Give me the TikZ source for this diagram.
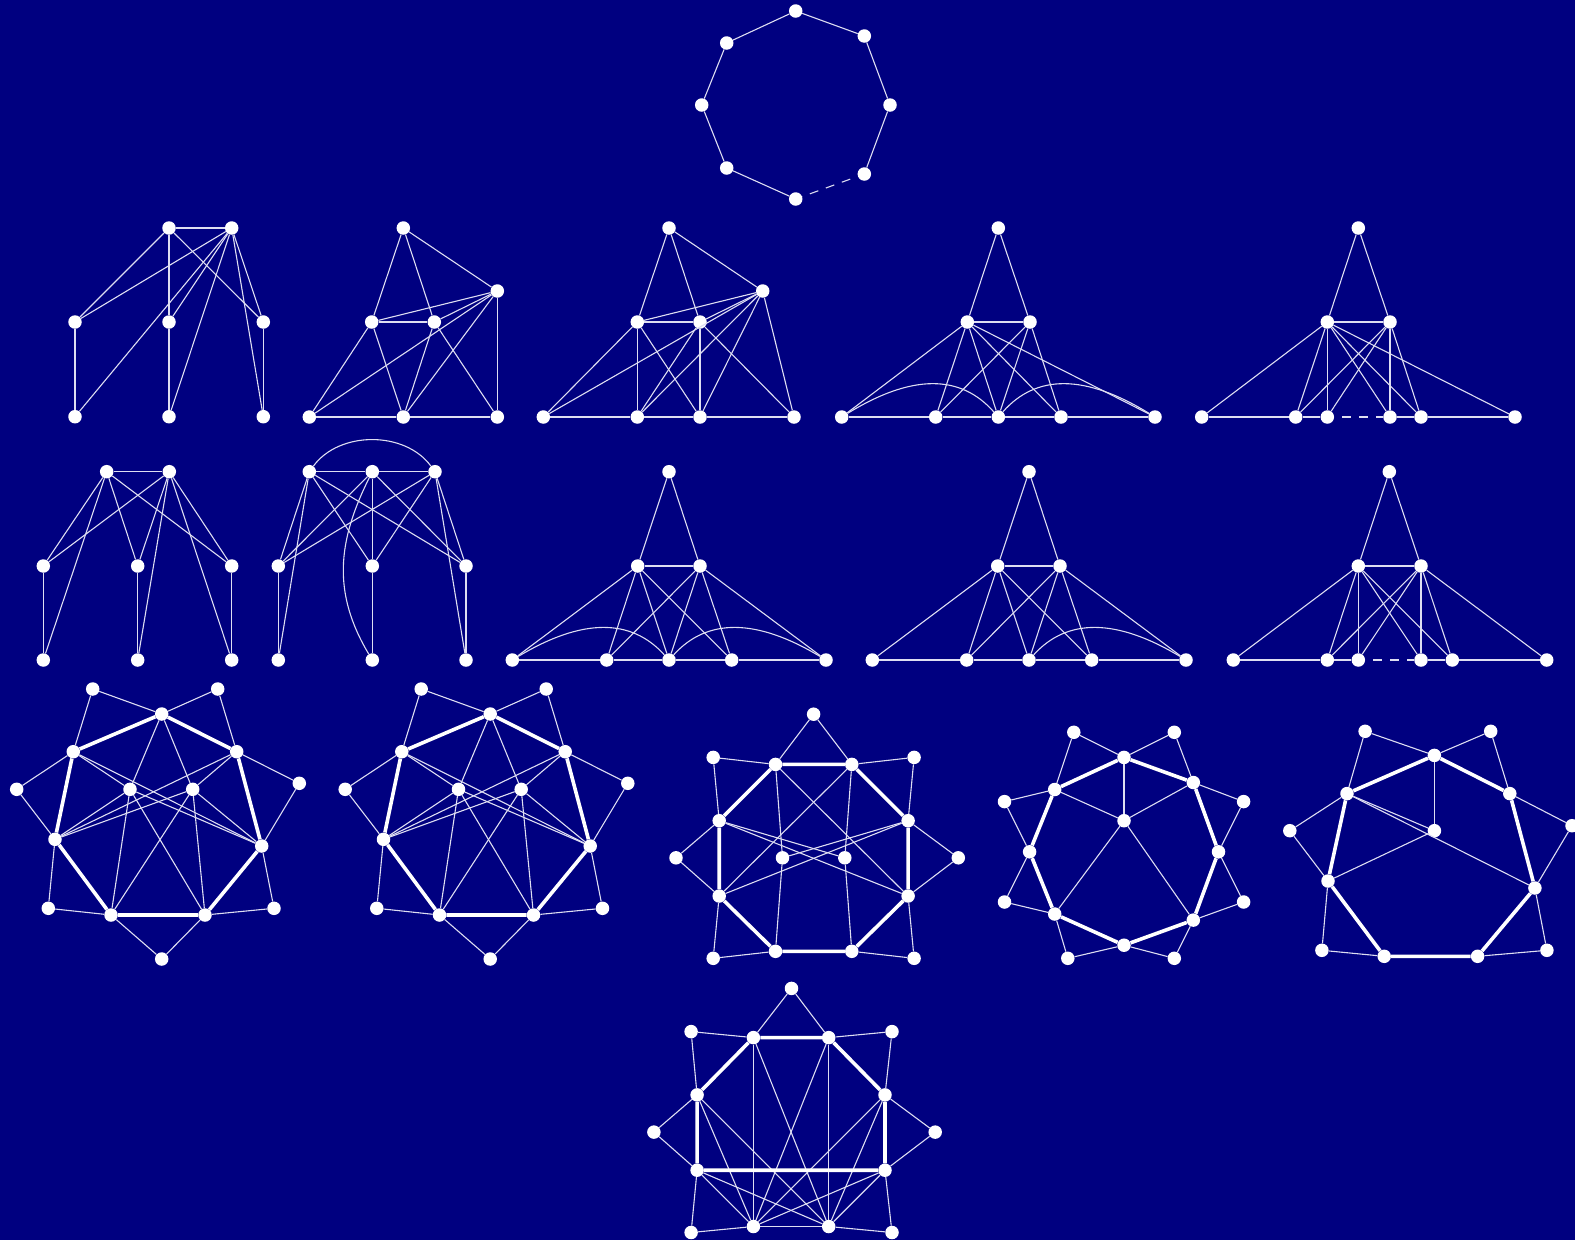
\documentclass[tikz,border=0pt]{standalone}
\definecolor{navybg}{RGB}{0,0,128}
\definecolor{ecol}{RGB}{222,222,242}
\begin{document}
\begin{tikzpicture}[x=1pt,y=-1pt,
 v/.style={circle,fill=white,inner sep=0pt,minimum size=13.5pt},
 e/.style={draw=ecol,line width=1.1pt},
 th/.style={draw=white,line width=3.6pt,line join=round},
 dsh/.style={e,dash pattern=on 9pt off 8pt,dash phase=9pt}]
\fill[navybg] (0,0) rectangle (1575,1240);
\useasboundingbox (0,0) rectangle (1575,1240);
% ---------- graph 0: octagon
\foreach \n/\x/\y in {a/795.7/11,b/864.3/36,c/890/105,d/864.3/174,e/795.7/199,f/726.7/168,g/701.7/105,h/726.7/43}
  \node[v] (g0\n) at (\x,\y) {};
\foreach \u/\w in {a/b,b/c,c/d,e/f,f/g,g/h,h/a} \draw[e] (g0\u) -- (g0\w);
\draw[dsh] (g0d) -- (g0e);
% ---------- graph 1
\foreach \n/\x/\y in {a/169/228,b/231.7/228,c/75/322,d/169/322,e/263.3/322,f/75/416.7,g/169/416.7,h/263.3/416.7}
  \node[v] (g1\n) at (\x,\y) {};
\foreach \u/\w in {a/b,a/c,a/d,a/e,b/c,b/d,b/e,b/f,b/g,b/h,c/f,d/g,e/h} \draw[e] (g1\u) -- (g1\w);
% ---------- graph 2
\foreach \n/\x/\y in {t/403.3/228,r/497.3/291,p/371.7/322,q/434.3/322,a/309.3/417,b/403.3/417,c/497.3/417}
  \node[v] (g2\n) at (\x,\y) {};
\foreach \u/\w in {t/p,t/q,t/r,p/q,p/r,q/r,p/a,p/b,q/b,q/c,r/a,r/b,r/c,a/b,b/c} \draw[e] (g2\u) -- (g2\w);
% ---------- graph 3
\foreach \n/\x/\y in {t/669/228,r/762.7/291,p/637.3/322,q/700/322,a/543.3/417,b/637.3/417,c/700/417,d/794/417}
  \node[v] (g3\n) at (\x,\y) {};
\foreach \u/\w in {t/p,t/q,t/r,p/q,p/r,q/r,r/a,r/b,r/c,r/d,p/a,p/b,p/c,q/b,q/c,q/d,a/b,b/c,c/d} \draw[e] (g3\u) -- (g3\w);
% ---------- graph 4
\foreach \n/\x/\y in {t/998.3/228,p/967.3/322,q/1030/322,a/841.7/417,b/935.7/417,c/998.3/417,d/1061/417,e/1155/417}
  \node[v] (g4\n) at (\x,\y) {};
\foreach \u/\w in {t/p,t/q,p/q,p/a,p/b,p/c,p/d,p/e,q/b,q/c,q/d,a/b,b/c,c/d,d/e} \draw[e] (g4\u) -- (g4\w);
\draw[e] (g4a) .. controls +(70,-43) and +(-38,-43) .. (g4c);
\draw[e] (g4c) .. controls +(38,-43) and +(-70,-43) .. (g4e);
% ---------- graph 5
\foreach \n/\x/\y in {t/1358.3/228,p/1327.3/322,q/1390/322,a/1201.7/417,b/1295.7/417,c/1327.3/417,d/1390/417,e/1421/417,f/1515/417}
  \node[v] (g5\n) at (\x,\y) {};
\foreach \u/\w in {t/p,t/q,p/q,p/a,p/b,p/c,p/d,p/e,p/f,q/b,q/c,q/d,q/e,a/b,b/c,d/e,e/f} \draw[e] (g5\u) -- (g5\w);
\draw[dsh] (g5c) -- (g5d);
% ---------- graph 6
\foreach \n/\x/\y in {a/106.7/471.7,b/169.3/471.7,c/43.3/566,d/137.7/566,e/231.7/566,f/43.3/660,g/137.7/660,h/231.7/660}
  \node[v] (g6\n) at (\x,\y) {};
\foreach \u/\w in {a/b,a/c,a/f,a/d,a/e,b/c,b/d,b/g,b/e,b/h,c/f,d/g,e/h} \draw[e] (g6\u) -- (g6\w);
% ---------- graph 7
\foreach \n/\x/\y in {a/309.3/471.7,b/372.3/471.7,c/435/471.7,d/278.3/566,e/372.3/566,f/466/566,g/278.3/660,h/372.3/660,i/466/660}
  \node[v] (g7\n) at (\x,\y) {};
\foreach \u/\w in {a/b,b/c,a/d,a/g,a/e,a/f,b/d,b/e,b/f,c/d,c/e,c/f,c/i,d/g,e/h,f/i} \draw[e] (g7\u) -- (g7\w);
\draw[e] (g7a) .. controls +(30,-41) and +(-30,-41) .. (g7c);
\draw[e] (g7b) .. controls +(-35,70) and +(-40,-67) .. (g7h);
% ---------- graph 8
\foreach \n/\x/\y in {t/669/471.7,p/637.7/566,q/700/566,a/512.3/660,b/606.7/660,c/669/660,d/731.7/660,e/826/660}
  \node[v] (g8\n) at (\x,\y) {};
\foreach \u/\w in {t/p,t/q,p/q,p/a,p/b,p/c,p/d,q/b,q/c,q/d,q/e,a/b,b/c,c/d,d/e} \draw[e] (g8\u) -- (g8\w);
\draw[e] (g8a) .. controls +(70,-42) and +(-38,-42) .. (g8c);
\draw[e] (g8c) .. controls +(38,-42) and +(-70,-42) .. (g8e);
% ---------- graph 9
\foreach \n/\x/\y in {t/1029/471.7,p/997.7/566,q/1060/566,a/872.3/660,b/966.7/660,c/1029/660,d/1091.7/660,e/1186/660}
  \node[v] (g9\n) at (\x,\y) {};
\foreach \u/\w in {t/p,t/q,p/q,p/a,p/b,p/c,p/d,q/b,q/c,q/d,q/e,a/b,b/c,c/d,d/e} \draw[e] (g9\u) -- (g9\w);
\draw[e] (g9c) .. controls +(38,-42) and +(-70,-42) .. (g9e);
% ---------- graph 10
\foreach \n/\x/\y in {t/1389.3/471.7,p/1358.3/566,q/1421/566,a/1233.3/660,b/1327.3/660,c/1358.3/660,d/1421/660,e/1452.3/660,f/1546.7/660}
  \node[v] (gA\n) at (\x,\y) {};
\foreach \u/\w in {t/p,t/q,p/q,p/a,p/b,p/c,p/d,p/e,q/b,q/c,q/d,q/e,q/f,a/b,b/c,d/e,e/f} \draw[e] (gA\u) -- (gA\w);
\draw[dsh] (gAc) -- (gAd);
% ---------- graph 11
\foreach \n/\x/\y in {T/161.7/714,UL/73.3/751.7,UR/236.7/751.7,L/55/839.3,R/261.7/846,BL/111/915,BR/205/915,I/130/789.3,J/192.7/789.3,
  Oa/92.7/689,Ob/217.7/689,Oc/16.7/789.3,Od/299.3/783.3,Oe/48.3/908.3,Of/274/908.3,Og/161.7/959}
  \node[v] (gB\n) at (\x,\y) {};
\foreach \u/\w in {Oa/UL,Oa/T,Ob/T,Ob/UR,Oc/UL,Oc/L,Od/UR,Od/R,Oe/L,Oe/BL,Of/R,Of/BR,Og/BL,Og/BR,
  T/I,T/J,UL/I,UL/R,UR/J,UR/L,I/L,I/R,J/L,J/R,I/BL,I/BR,J/BL,J/BR} \draw[e] (gB\u) -- (gB\w);
\draw[th] (gBT) -- (gBUR) -- (gBR) -- (gBBR) -- (gBBL) -- (gBL) -- (gBUL) -- (gBT);
% ---------- graph 12
\foreach \n/\x/\y in {T/490.2/714,UL/401.8/751.7,UR/565.2/751.7,L/383.5/839.3,R/590.2/846,BL/439.5/915,BR/533.5/915,I/458.5/789.3,J/521.2/789.3,
  Oa/421.2/689,Ob/546.2/689,Oc/345.2/789.3,Od/627.8/783.3,Oe/376.8/908.3,Of/602.5/908.3,Og/490.2/959}
  \node[v] (gC\n) at (\x,\y) {};
\foreach \u/\w in {Oa/UL,Oa/T,Ob/T,Ob/UR,Oc/UL,Oc/L,Od/UR,Od/R,Oe/L,Oe/BL,Of/R,Of/BR,Og/BL,Og/BR,
  T/I,T/J,UL/I,UL/R,UR/J,UR/L,I/L,I/R,J/L,J/R,I/BL,I/BR,J/BL,J/BR} \draw[e] (gC\u) -- (gC\w);
\draw[th] (gCT) -- (gCUR) -- (gCR) -- (gCBR) -- (gCBL) -- (gCL) -- (gCUL) -- (gCT);
% ---------- graph 13
\foreach \n/\x/\y in {Ot/813.6/714.2,UL/775.5/764.4,UR/851.8/764.4,Oa/713.2/757.4,Ob/914.1/757.4,La/719.2/820.7,Ra/908.1/820.7,
  Oc/676/857.8,Od/958.3/857.8,I/782.5/857.8,J/844.8/857.8,Lb/719.2/896,Rb/908.1/896,BL/775.5/951.3,BR/851.8/951.3,Oe/713.2/958.3,Of/914.1/958.3}
  \node[v] (gD\n) at (\x,\y) {};
\foreach \u/\w in {Ot/UL,Ot/UR,Oa/UL,Oa/La,Ob/UR,Ob/Ra,Oc/La,Oc/Lb,Od/Ra,Od/Rb,Oe/Lb,Oe/BL,Of/Rb,Of/BR,
  UL/I,UR/J,I/BL,J/BR,La/J,La/Rb,Ra/I,Ra/Lb,UL/Rb,UR/Lb} \draw[e] (gD\u) -- (gD\w);
\draw[th] (gDUL) -- (gDUR) -- (gDRa) -- (gDRb) -- (gDBR) -- (gDBL) -- (gDLb) -- (gDLa) -- (gDUL);
% ---------- graph 14
\foreach \n/\x/\y in {Oa/1073.8/732.3,Ob/1174.3/732.3,T/1124/757.4,UL/1054.7/789.5,UR/1193.3/782.5,Oc/1004.5/801.6,Od/1243.6/801.6,
  C/1124/820.7,L/1029.6/851.8,R/1218.5/851.8,Oe/1004.5/902,Of/1243.6/902,BL/1054.7/914,BR/1193.3/920.1,B/1124/945.2,Og/1067.8/958.3,Oh/1174.3/958.3}
  \node[v] (gE\n) at (\x,\y) {};
\foreach \u/\w in {Oa/T,Oa/UL,Ob/T,Ob/UR,Oc/UL,Oc/L,Od/UR,Od/R,Oe/L,Oe/BL,Of/R,Of/BR,Og/BL,Og/B,Oh/B,Oh/BR,
  T/C,UL/C,UR/C,C/BL,C/BR} \draw[e] (gE\u) -- (gE\w);
\draw[th] (gET) -- (gEUR) -- (gER) -- (gEBR) -- (gEB) -- (gEBL) -- (gEL) -- (gEUL) -- (gET);
% ---------- graph 15
\foreach \n/\x/\y in {Oa/1365.1/731.3,Ob/1490.7/731.3,T/1434.4/755.4,UL/1347/793.6,UR/1509.8/793.6,Oc/1289.8/830.7,Od/1572/825.7,
  C/1434.4/830.7,L/1328/881,R/1534.9/888,Oe/1321.9/950.3,Of/1546.9/950.3,BL/1384.2/956.3,BR/1477.6/956.3}
  \node[v] (gF\n) at (\x,\y) {};
\foreach \u/\w in {Oa/T,Oa/UL,Ob/T,Ob/UR,Oc/UL,Oc/L,Od/UR,Od/R,Oe/L,Oe/BL,Of/R,Of/BR,
  T/C,UL/C,C/L,UL/R} \draw[e] (gF\u) -- (gF\w);
\draw[th] (gFT) -- (gFUR) -- (gFR) -- (gFBR) -- (gFBL) -- (gFL) -- (gFUL) -- (gFT);
% ---------- graph 16
\foreach \n/\x/\y in {Ot/791.5/988.4,Oa/691.1/1031.6,Ob/892/1031.6,UL/753.4/1037.6,UR/828.7/1037.6,La/697.1/1094.9,Ra/885/1094.9,
  Oc/653.9/1132.1,Od/935.2/1132.1,Lb/697.1/1170.2,Rb/885/1170.2,BL/753.4/1226.5,BR/828.7/1226.5,Oe/691.1/1232.5,Of/892/1232.5}
  \node[v] (gG\n) at (\x,\y) {};
\foreach \u/\w in {Ot/UL,Ot/UR,Oa/UL,Oa/La,Ob/UR,Ob/Ra,Oc/La,Oc/Lb,Od/Ra,Od/Rb,Oe/Lb,Oe/BL,Of/Rb,Of/BR,BL/BR,
  UL/BL,UR/BR,La/BL,Lb/BL,Ra/BL,Rb/BL,La/BR,Lb/BR,Ra/BR,Rb/BR,UL/BR,UR/BL} \draw[e] (gG\u) -- (gG\w);
\draw[th] (gGUL) -- (gGUR) -- (gGRa) -- (gGRb) -- (gGLb) -- (gGLa) -- (gGUL);
\end{tikzpicture}
\end{document}
